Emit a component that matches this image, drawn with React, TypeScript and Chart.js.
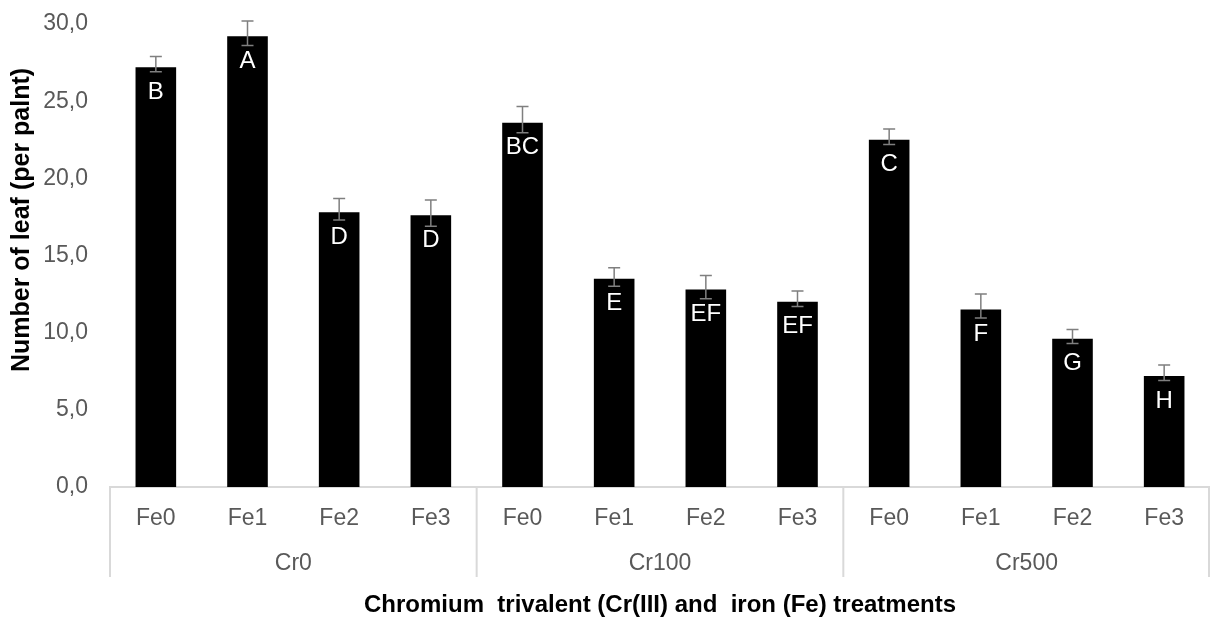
import React, { useEffect, useRef } from "react";
import { Chart, registerables } from "chart.js";

Chart.register(...registerables);

const groups = ["Cr0", "Cr100", "Cr500"];
const feLevels = ["Fe0", "Fe1", "Fe2", "Fe3"];
const values = [27.2, 29.2, 17.8, 17.6, 23.6, 13.5, 12.8, 12.0, 22.5, 11.5, 9.6, 7.2];
const errUp = [0.7, 1.0, 0.9, 1.0, 1.05, 0.7, 0.9, 0.7, 0.7, 1.0, 0.6, 0.7];
const errDown = [0.3, 0.6, 0.5, 0.7, 0.65, 0.5, 0.6, 0.3, 0.3, 0.55, 0.3, 0.3];
const letters = ["B", "A", "D", "D", "BC", "E", "EF", "EF", "C", "F", "G", "H"];
const yTicks = [0, 5, 10, 15, 20, 25, 30];
const yTitle = "Number of leaf (per palnt)";
const xTitle = "Chromium  trivalent (Cr(III) and  iron (Fe) treatments";

const FONT = "'Liberation Sans', Arial, sans-serif";
const GRAY = "#595959";
const LINE = "#d9d9d9";

const labels: string[] = [];
groups.forEach(() => feLevels.forEach((f) => labels.push(f)));

const overlay = {
  id: "overlay",
  afterDatasetsDraw(chart: any) {
    const ctx = chart.ctx;
    const meta = chart.getDatasetMeta(0);
    const ys = chart.scales.y;
    ctx.save();
    ctx.strokeStyle = "#7f7f7f";
    ctx.lineWidth = 1.5;
    meta.data.forEach((bar: any, i: number) => {
      const x = bar.x;
      const yt = ys.getPixelForValue(values[i] + errUp[i]);
      const yb = ys.getPixelForValue(values[i] - errDown[i]);
      ctx.beginPath();
      ctx.moveTo(x, yt);
      ctx.lineTo(x, yb);
      ctx.moveTo(x - 6, yt);
      ctx.lineTo(x + 6, yt);
      ctx.moveTo(x - 6, yb);
      ctx.lineTo(x + 6, yb);
      ctx.stroke();
    });
    ctx.fillStyle = "#ffffff";
    ctx.font = `24px ${FONT}`;
    ctx.textAlign = "center";
    ctx.textBaseline = "middle";
    meta.data.forEach((bar: any, i: number) => {
      ctx.fillText(letters[i], bar.x, bar.y + 25);
    });
    ctx.restore();
  },
  afterDraw(chart: any) {
    const ctx = chart.ctx;
    const area = chart.chartArea;
    const n = labels.length;
    const step = (area.right - area.left) / n;
    ctx.save();
    ctx.strokeStyle = LINE;
    ctx.lineWidth = 2;
    for (let g = 0; g <= groups.length; g++) {
      const x = Math.min(area.left + g * feLevels.length * step, area.right - 1);
      ctx.beginPath();
      ctx.moveTo(x, area.bottom);
      ctx.lineTo(x, area.bottom + 90);
      ctx.stroke();
    }
    ctx.fillStyle = GRAY;
    ctx.font = `23px ${FONT}`;
    ctx.textAlign = "center";
    ctx.textBaseline = "middle";
    groups.forEach((g, gi) => {
      const x = area.left + (gi * feLevels.length + feLevels.length / 2) * step;
      ctx.fillText(g, x, area.bottom + 77);
    });
    ctx.fillStyle = "#000000";
    ctx.font = `bold 24px ${FONT}`;
    ctx.fillText(xTitle, (area.left + area.right) / 2, 605);
    ctx.translate(22, 220);
    ctx.rotate(-Math.PI / 2);
    ctx.font = `bold 25px ${FONT}`;
    ctx.fillText(yTitle, 0, 0);
    ctx.restore();
  },
};

export default function App() {
  const ref = useRef<HTMLCanvasElement | null>(null);
  useEffect(() => {
    document.body.style.margin = "0";
    const canvas = ref.current;
    if (!canvas) return;
    const chart = new Chart(canvas, {
      type: "bar",
      data: {
        labels,
        datasets: [
          {
            data: values,
            backgroundColor: "#000000",
            borderWidth: 0,
            barPercentage: 0.443,
            categoryPercentage: 1,
          },
        ],
      },
      options: {
        responsive: false,
        animation: false,
        devicePixelRatio: 1,
        layout: { padding: { top: 24, right: 0, left: 0, bottom: 0 } },
        plugins: { legend: { display: false }, tooltip: { enabled: false }, title: { display: false } },
        scales: {
          x: {
            grid: { display: false, drawTicks: false },
            border: { display: true, color: LINE, width: 2 },
            ticks: { color: GRAY, font: { family: FONT, size: 23 }, padding: 18, maxRotation: 0, autoSkip: false },
            afterFit: (s: any) => {
              s.height = 135;
              s.paddingLeft = 0;
              s.paddingRight = 0;
            },
          },
          y: {
            min: 0,
            max: 30,
            grid: { display: false, drawTicks: false },
            border: { display: false },
            afterBuildTicks: (s: any) => {
              s.ticks = yTicks.map((v) => ({ value: v }));
            },
            ticks: {
              color: GRAY,
              font: { family: FONT, size: 23 },
              padding: 22,
              callback: (v: any) => Number(v).toFixed(1).replace(".", ","),
            },
            afterFit: (s: any) => {
              s.width = 110;
              s.paddingTop = 0;
              s.paddingBottom = 0;
            },
          },
        },
      },
      plugins: [overlay],
    });
    return () => chart.destroy();
  }, []);
  return (
    <div style={{ width: 1210, height: 622 }}>
      <canvas ref={ref} width={1210} height={622} style={{ display: "block" }} />
    </div>
  );
}
